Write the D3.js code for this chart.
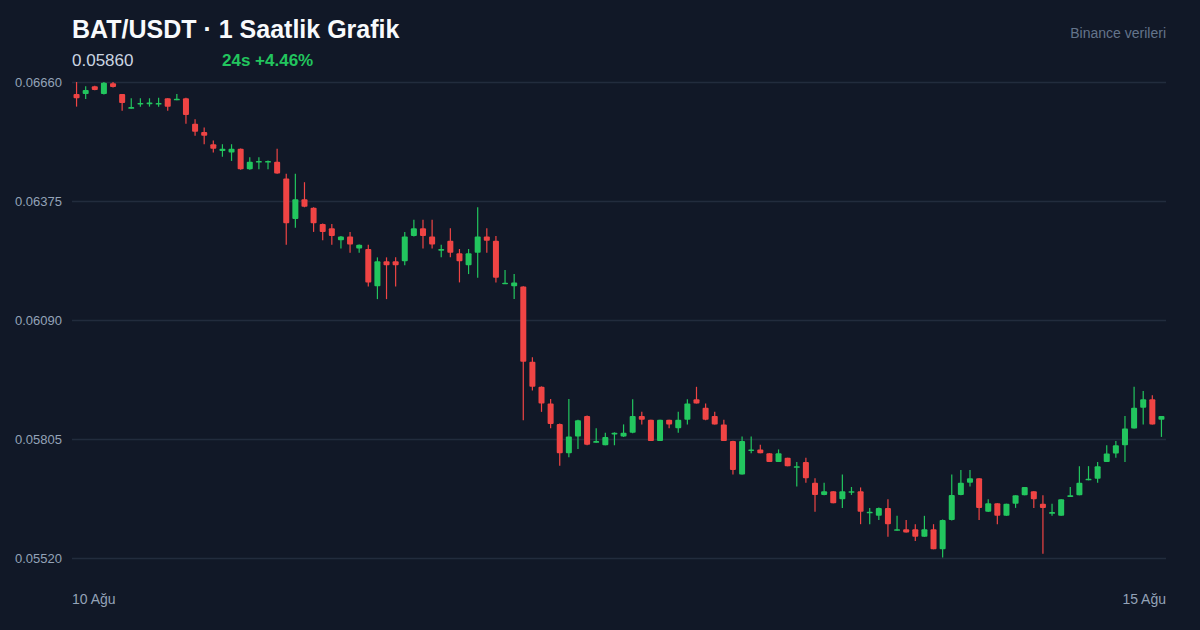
<!DOCTYPE html>
<html>
<head>
<meta charset="utf-8">
<script src="https://cdn.jsdelivr.net/npm/d3@7"></script>
<style>
  html, body { margin: 0; padding: 0; background: #111827; }
  svg { display: block; font-family: "Liberation Sans", Arial, Helvetica, sans-serif; }
</style>
</head>
<body>
<svg id="chart" width="1200" height="630"></svg>
<script>
// ---- Data (hourly candles, 10 Ağu → 15 Ağu) ----
const openP = [
  0.06631,0.06631,0.06650,0.06631,0.06657,0.06631,0.06596,0.06607,0.06607,0.06606,
  0.06621,0.06616,0.06621,0.06560,0.06540,0.06511,0.06495,0.06491,0.06500,0.06451,
  0.06467,0.06467,0.06469,0.06429,0.06332,0.06379,0.06359,0.06320,0.06310,0.06281,
  0.06290,0.06261,0.06260,0.06171,0.06231,0.06231,0.06231,0.06291,0.06310,0.06290,
  0.06256,0.06280,0.06250,0.06221,0.06251,0.06290,0.06280,0.06176,0.06171,0.06170,
  0.05990,0.05930,0.05890,0.05841,0.05771,0.05811,0.05860,0.05796,0.05790,0.05816,
  0.05811,0.05820,0.05860,0.05851,0.05800,0.05851,0.05831,0.05851,0.05900,0.05880,
  0.05860,0.05840,0.05800,0.05720,0.05776,0.05780,0.05771,0.05750,0.05760,0.05736,
  0.05750,0.05700,0.05671,0.05680,0.05661,0.05676,0.05680,0.05627,0.05621,0.05640,
  0.05585,0.05589,0.05589,0.05571,0.05589,0.05541,0.05611,0.05671,0.05700,0.05711,
  0.05631,0.05651,0.05621,0.05650,0.05670,0.05680,0.05650,0.05626,0.05621,0.05666,
  0.05670,0.05706,0.05710,0.05750,0.05770,0.05790,0.05830,0.05880,0.05900,0.05851
];
const highP = [
  0.06660,0.06650,0.06651,0.06660,0.06660,0.06631,0.06621,0.06621,0.06621,0.06622,
  0.06621,0.06631,0.06622,0.06571,0.06551,0.06520,0.06511,0.06511,0.06501,0.06480,
  0.06480,0.06472,0.06500,0.06440,0.06440,0.06420,0.06360,0.06321,0.06320,0.06291,
  0.06301,0.06271,0.06270,0.06240,0.06240,0.06240,0.06301,0.06330,0.06330,0.06330,
  0.06270,0.06310,0.06260,0.06260,0.06360,0.06310,0.06291,0.06210,0.06200,0.06171,
  0.06001,0.05931,0.05901,0.05842,0.05901,0.05851,0.05861,0.05831,0.05820,0.05821,
  0.05840,0.05900,0.05870,0.05851,0.05851,0.05851,0.05870,0.05900,0.05930,0.05890,
  0.05870,0.05851,0.05801,0.05811,0.05811,0.05791,0.05771,0.05780,0.05760,0.05750,
  0.05760,0.05711,0.05700,0.05680,0.05720,0.05690,0.05689,0.05640,0.05641,0.05661,
  0.05621,0.05611,0.05601,0.05621,0.05601,0.05612,0.05720,0.05731,0.05731,0.05711,
  0.05661,0.05651,0.05650,0.05670,0.05690,0.05680,0.05670,0.05650,0.05661,0.05690,
  0.05740,0.05740,0.05750,0.05790,0.05800,0.05860,0.05930,0.05920,0.05910,0.05860
];
const lowP = [
  0.06601,0.06619,0.06640,0.06630,0.06647,0.06591,0.06596,0.06601,0.06601,0.06601,
  0.06591,0.06616,0.06560,0.06531,0.06511,0.06491,0.06481,0.06471,0.06450,0.06450,
  0.06451,0.06451,0.06440,0.06270,0.06311,0.06360,0.06301,0.06281,0.06270,0.06261,
  0.06251,0.06251,0.06170,0.06140,0.06140,0.06170,0.06221,0.06290,0.06261,0.06261,
  0.06240,0.06240,0.06180,0.06200,0.06191,0.06251,0.06180,0.06176,0.06140,0.05850,
  0.05921,0.05870,0.05831,0.05741,0.05761,0.05781,0.05790,0.05796,0.05790,0.05790,
  0.05810,0.05819,0.05840,0.05800,0.05800,0.05831,0.05820,0.05840,0.05890,0.05850,
  0.05840,0.05800,0.05720,0.05720,0.05771,0.05771,0.05750,0.05750,0.05740,0.05691,
  0.05700,0.05631,0.05670,0.05651,0.05640,0.05671,0.05601,0.05601,0.05611,0.05571,
  0.05585,0.05581,0.05561,0.05571,0.05541,0.05521,0.05610,0.05670,0.05691,0.05611,
  0.05630,0.05601,0.05621,0.05640,0.05670,0.05640,0.05530,0.05621,0.05621,0.05666,
  0.05670,0.05706,0.05700,0.05750,0.05760,0.05750,0.05830,0.05840,0.05840,0.05810
];
const closeP = [
  0.06621,0.06641,0.06641,0.06658,0.06648,0.06610,0.06600,0.06610,0.06611,0.06610,
  0.06601,0.06620,0.06581,0.06541,0.06531,0.06500,0.06500,0.06500,0.06451,0.06469,
  0.06471,0.06471,0.06441,0.06322,0.06379,0.06361,0.06322,0.06301,0.06291,0.06290,
  0.06271,0.06270,0.06180,0.06231,0.06221,0.06221,0.06290,0.06310,0.06291,0.06271,
  0.06260,0.06251,0.06231,0.06250,0.06290,0.06280,0.06191,0.06179,0.06180,0.05990,
  0.05930,0.05890,0.05841,0.05771,0.05811,0.05850,0.05791,0.05800,0.05810,0.05820,
  0.05820,0.05860,0.05851,0.05800,0.05851,0.05840,0.05851,0.05890,0.05890,0.05851,
  0.05840,0.05800,0.05731,0.05800,0.05780,0.05771,0.05750,0.05771,0.05740,0.05740,
  0.05711,0.05671,0.05680,0.05651,0.05680,0.05680,0.05631,0.05631,0.05640,0.05601,
  0.05589,0.05581,0.05571,0.05589,0.05541,0.05611,0.05671,0.05700,0.05711,0.05640,
  0.05651,0.05621,0.05650,0.05670,0.05690,0.05661,0.05640,0.05630,0.05661,0.05670,
  0.05700,0.05710,0.05740,0.05770,0.05790,0.05830,0.05880,0.05900,0.05840,0.05860
];
const yTicks = [0.06660, 0.06375, 0.06090, 0.05805, 0.05520];
const xLabels = ["10 Ağu", "15 Ağu"];
const titleText = "BAT/USDT · 1 Saatlik Grafik";
const lastPrice = "0.05860";
const changeText = "24s +4.46%";
const sourceText = "Binance verileri";

// ---- Build ----
(function () {
const candles = openP.map((o, i) => ({ i, o, h: highP[i], l: lowP[i], c: closeP[i] }));
const W = 1200, H = 630;
const mLeft = 72, mRight = 1166, mTop = 82, mBottom = 558;
const UP = "#22c55e", DOWN = "#ef4444";

const svg = d3.select("#chart");
svg.append("rect").attr("width", W).attr("height", H).attr("fill", "#111827");

const x = d3.scaleBand().domain(candles.map(d => d.i)).range([mLeft, mRight]).paddingInner(0.34).paddingOuter(0.17);
const y = d3.scaleLinear().domain([yTicks[yTicks.length - 1], yTicks[0]]).range([mBottom, mTop]);

// grid + y labels
const yAxis = d3.axisLeft(y).tickValues(yTicks).tickSize(-(mRight - mLeft)).tickFormat(d3.format(".5f")).tickPadding(10);
const gy = svg.append("g").attr("transform", `translate(${mLeft},0)`).call(yAxis);
gy.select(".domain").remove();
gy.selectAll(".tick line").attr("stroke", "#222c3d").attr("stroke-width", 1.5);
gy.selectAll(".tick text").attr("fill", "#94a3b8").attr("font-size", 13)
  .attr("font-family", "'Liberation Sans', Arial, sans-serif");

// candles
const g = svg.append("g");
const cx = d => x(d.i) + x.bandwidth() / 2;
g.selectAll("line.wick").data(candles).join("line")
  .attr("class", "wick")
  .attr("x1", cx).attr("x2", cx)
  .attr("y1", d => y(d.h)).attr("y2", d => y(d.l))
  .attr("stroke", d => d.c >= d.o ? UP : DOWN).attr("stroke-width", 1.2);
g.selectAll("rect.body").data(candles).join("rect")
  .attr("class", "body")
  .attr("x", d => x(d.i)).attr("width", x.bandwidth())
  .attr("y", d => y(Math.max(d.o, d.c)))
  .attr("height", d => Math.max(1.5, Math.abs(y(d.o) - y(d.c))))
  .attr("rx", 1)
  .attr("fill", d => d.c >= d.o ? UP : DOWN);

// x labels
svg.append("text").attr("x", mLeft).attr("y", 604).attr("fill", "#94a3b8").attr("font-size", 14).text(xLabels[0]);
svg.append("text").attr("x", mRight).attr("y", 604).attr("text-anchor", "end").attr("fill", "#94a3b8").attr("font-size", 14).text(xLabels[1]);

// header
svg.append("text").attr("x", mLeft).attr("y", 38).attr("fill", "#f8fafc").attr("font-size", 25).attr("font-weight", "bold").text(titleText);
svg.append("text").attr("x", mLeft).attr("y", 66).attr("fill", "#cbd5e1").attr("font-size", 17).text(lastPrice);
svg.append("text").attr("x", 222).attr("y", 66).attr("fill", UP).attr("font-size", 17).attr("font-weight", "bold").text(changeText);
svg.append("text").attr("x", mRight).attr("y", 38).attr("text-anchor", "end").attr("fill", "#64748b").attr("font-size", 14).text(sourceText);
})();
</script>
</body>
</html>
